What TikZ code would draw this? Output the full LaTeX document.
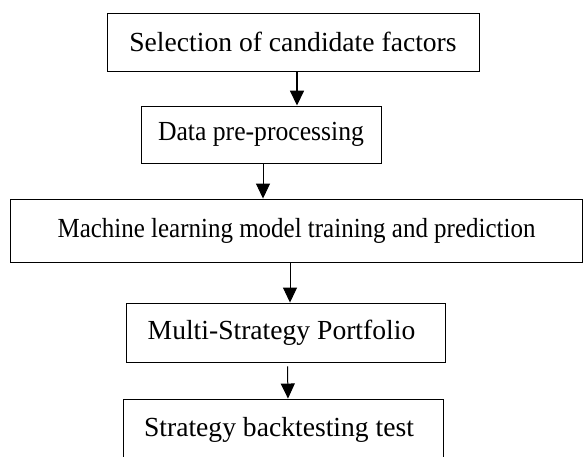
\documentclass[tikz,border=0pt]{standalone}
\usepackage{fontspec}
\setmainfont{Liberation Serif}
\usetikzlibrary{arrows.meta,positioning}

% squeeze a long label sideways
\newcommand{\narrow}[2]{\scalebox{#1}[1]{#2}}

\begin{document}
\begin{tikzpicture}[
    x=1pt, y=1pt,
    stepbox/.style={draw, line width=0.9pt, rectangle, align=center,
                    inner sep=0pt, font=\fontsize{27.6}{32}\selectfont},
    arrow/.style={-{Triangle[length=15pt,width=14pt]}, line width=1pt}
  ]
    \useasboundingbox (0,0) rectangle (584,-457);

    \node[stepbox, minimum width=372pt, minimum height=58pt] (sel) at (293,-42)    {Selection of candidate factors};
    \node[stepbox, minimum width=240pt, minimum height=57pt] (pre) at (261,-134.5) {\narrow{0.93}{Data pre-processing}};
    \node[stepbox, minimum width=572pt, minimum height=63pt] (ml)  at (296.5,-230.5) {\narrow{0.905}{Machine learning model training and prediction}};
    \node[stepbox, minimum width=319pt, minimum height=59pt] (msp) at (285.5,-332.5) {Multi-Strategy Portfolio\hspace*{8pt}};
    \node[stepbox, minimum width=320pt, minimum height=62pt] (bt)  at (283,-430)   {Strategy backtesting test\hspace*{8pt}};

    \draw[arrow, line width=1.6pt] ([xshift=4pt]sel.south) -- ([xshift=36pt]pre.north);
    \draw[arrow] ([xshift=2pt]pre.south)  -- ([xshift=-33.5pt]ml.north);
    \draw[arrow] ([xshift=4.5pt]msp.north |- ml.south) -- ([xshift=4.5pt]msp.north);
    \draw[arrow] ([xshift=2pt,yshift=-4pt]msp.south) -- ([xshift=5pt]bt.north);
\end{tikzpicture}
\end{document}
